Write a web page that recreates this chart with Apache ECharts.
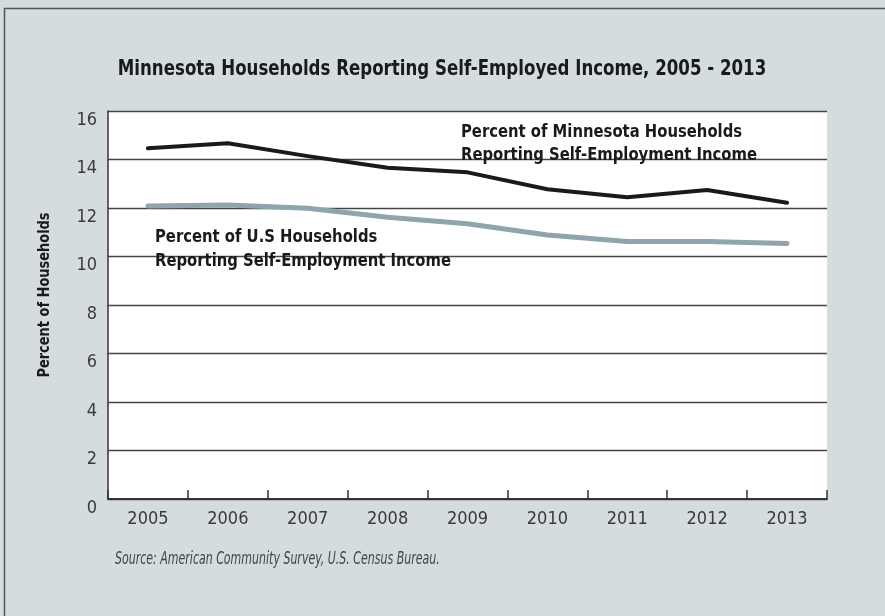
<!DOCTYPE html>
<html><head><meta charset="utf-8">
<script src="https://cdn.jsdelivr.net/npm/echarts@6/dist/echarts.min.js"></script>
<style>html,body{margin:0;padding:0;background:#d4dcdf}#c{width:885px;height:616px}</style>
</head><body><div id="c"></div>
<script>
const years = ['2005','2006','2007','2008','2009','2010','2011','2012','2013'];
const minnesota = [14.46, 14.67, 14.14, 13.66, 13.47, 12.77, 12.44, 12.74, 12.22];
const unitedStates = [12.08, 12.12, 11.99, 11.62, 11.35, 10.89, 10.62, 10.62, 10.54];
const yTicks = [0, 2, 4, 6, 8, 10, 12, 14, 16];
const titleText = 'Minnesota Households Reporting Self-Employed Income, 2005 - 2013';
const mnLabel = ['Percent of Minnesota Households', 'Reporting Self-Employment Income'];
const usLabel = ['Percent of U.S Households', 'Reporting Self-Employment Income'];
const yName = 'Percent of Households';
const sourceText = 'Source: American Community Survey, U.S. Census Bureau.';

const NARROW = "'DejaVu Sans Condensed','DejaVu Sans',sans-serif";
function txt(text, x, y, o) {
  return Object.assign({type: 'text', x: x, y: y, z: 100,
    style: Object.assign({text: text, fontFamily: NARROW, fill: '#1a1a1a',
      align: 'left', verticalAlign: 'middle'}, o.style)}, o.el || {});
}
const chart = echarts.init(document.getElementById('c'), null, {renderer:'canvas'});
chart.setOption({
  backgroundColor: '#d4dcdf',
  animation: false,
  grid: {left: 108, right: 58, top: 111, bottom: 117, show: true, backgroundColor: '#ffffff', borderWidth: 0},
  xAxis: {
    type: 'category', data: years, boundaryGap: true,
    axisLine: {lineStyle: {color: '#333', width: 2}},
    axisTick: {show: true, inside: true, length: 9, lineStyle: {color: '#333', width: 1.5}},
    axisLabel: {fontFamily: NARROW, fontSize: 18, color: '#3a3a3a', margin: 11},
    splitLine: {show: false}
  },
  yAxis: {
    type: 'value', min: 0, max: 16, interval: 2,
    axisLine: {show: true, lineStyle: {color: '#333', width: 1.5}},
    axisTick: {show: false},
    axisLabel: {fontFamily: NARROW, fontSize: 18, color: '#3a3a3a', margin: 11, verticalAlign: 'top',
      formatter: v => yTicks.includes(v) ? String(v) : ''},
    splitLine: {lineStyle: {color: '#444', width: 1.4}}
  },
  graphic: [
    {type: 'rect', shape: {x: 4.5, y: 8.5, width: 900, height: 700}, style: {fill: 'none', stroke: '#555', lineWidth: 1.5}, z: 100},
    txt(titleText, 442, 69, {style: {fontWeight: 'bold', fontSize: 22, align: 'center'}, el: {scaleX: 0.84}}),
    txt(mnLabel[0], 461, 132, {style: {fontWeight: 'bold', fontSize: 18}, el: {scaleX: 0.915}}),
    txt(mnLabel[1], 461, 155, {style: {fontWeight: 'bold', fontSize: 18}, el: {scaleX: 0.915}}),
    txt(usLabel[0], 155, 237, {style: {fontWeight: 'bold', fontSize: 18}, el: {scaleX: 0.915}}),
    txt(usLabel[1], 155, 261, {style: {fontWeight: 'bold', fontSize: 18}, el: {scaleX: 0.915}}),
    txt(yName, 45, 295, {style: {fontWeight: 'bold', fontSize: 16, align: 'center'}, el: {scaleX: 0.9, rotation: Math.PI / 2}}),
    txt(sourceText, 115, 560, {style: {fontStyle: 'italic', fontSize: 17, fill: '#444'}, el: {scaleX: 0.72}})
  ],
  series: [
    {type: 'line', data: minnesota, symbol: 'none', smooth: false,
      lineStyle: {color: '#1a1a1a', width: 4, cap: 'round', join: 'round'}, z: 3},
    {type: 'line', data: unitedStates, symbol: 'none', smooth: false,
      lineStyle: {color: '#8fa5ab', width: 5, cap: 'round', join: 'round'}, z: 2}
  ]
});
</script></body></html>
